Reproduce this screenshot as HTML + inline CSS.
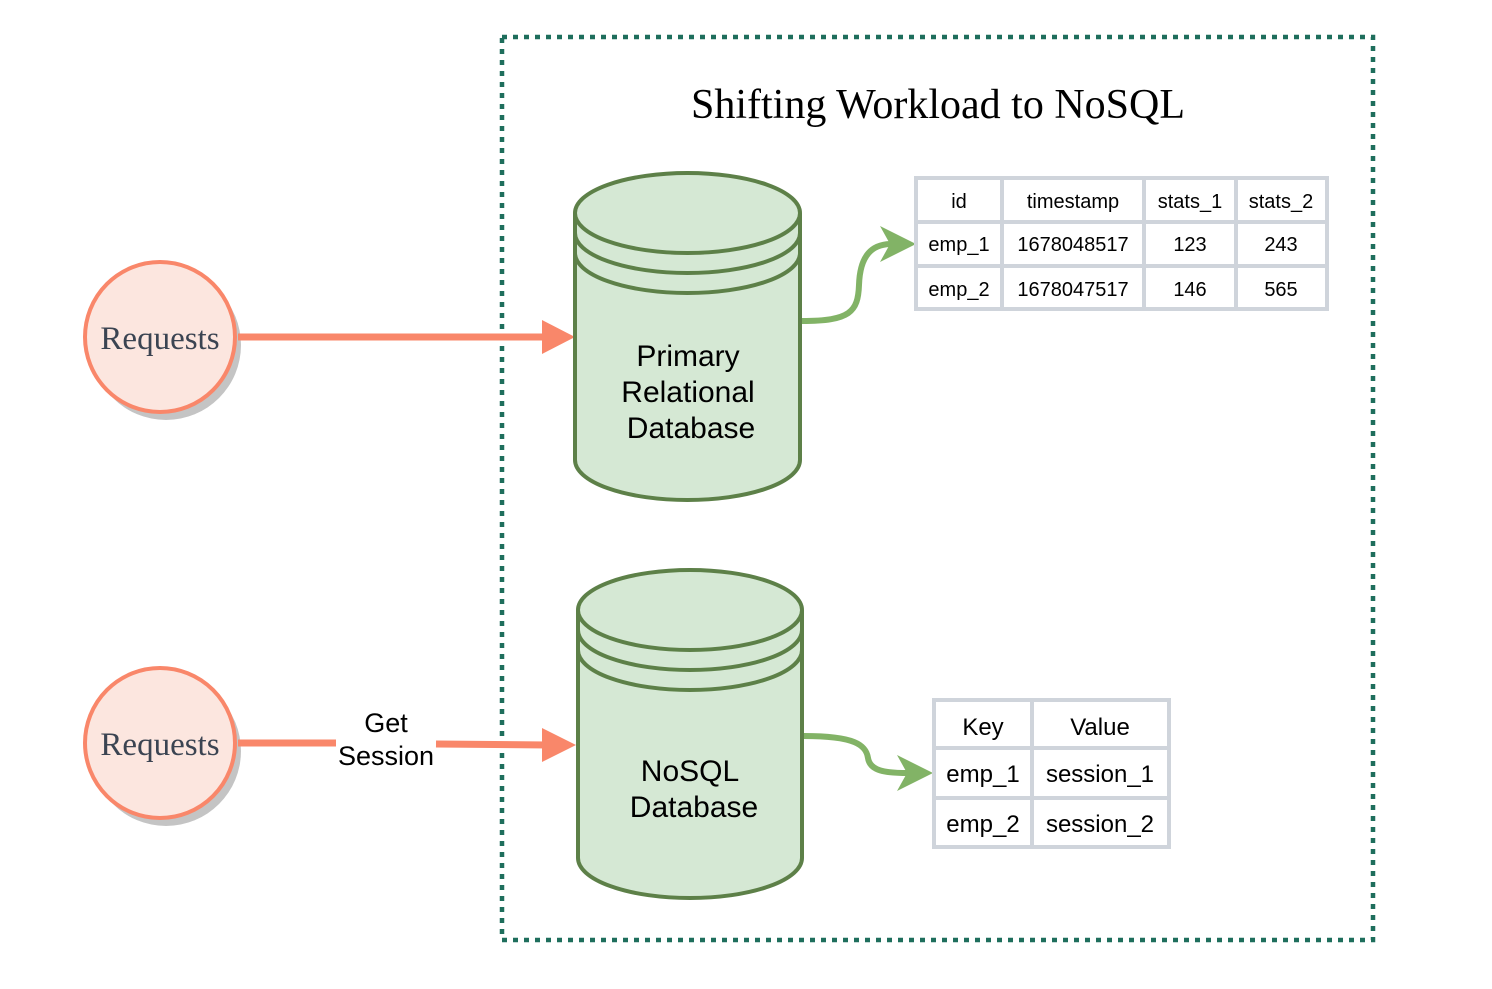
<!DOCTYPE html>
<html><head><style>body{margin:0;background:#fff}</style></head><body>
<svg width="1492" height="984" xmlns="http://www.w3.org/2000/svg">
<rect x="502" y="37" width="871" height="903" fill="none" stroke="#1e6e5c" stroke-width="4.5" stroke-dasharray="5 6"/>
<text x="938" y="118" text-anchor="middle" font-family="Liberation Serif, serif" font-size="42" fill="#000">Shifting Workload to NoSQL</text>
<!-- circles -->
<g font-family="Liberation Serif, serif" font-size="33" fill="#3b4452" text-anchor="middle">
<circle cx="166" cy="345" r="75" fill="#c4c4c4"/>
<circle cx="160" cy="337" r="75" fill="#fce6df" stroke="#f9876a" stroke-width="4"/>
<text x="160" y="349">Requests</text>
<circle cx="166" cy="751" r="75" fill="#c4c4c4"/>
<circle cx="160" cy="743" r="75" fill="#fce6df" stroke="#f9876a" stroke-width="4"/>
<text x="160" y="755">Requests</text>
</g>
<!-- arrows -->
<line x1="238" y1="337" x2="548" y2="337" stroke="#f9876a" stroke-width="7"/>
<polygon points="542,320 575,337 542,354" fill="#f9876a"/>
<line x1="238" y1="743" x2="336" y2="743" stroke="#f9876a" stroke-width="7"/>
<line x1="436" y1="744" x2="548" y2="745" stroke="#f9876a" stroke-width="7"/>
<polygon points="542,728 576,745 542,762" fill="#f9876a"/>
<text x="386" y="732" text-anchor="middle" font-family="Liberation Sans, sans-serif" font-size="27">Get</text>
<text x="386" y="765" text-anchor="middle" font-family="Liberation Sans, sans-serif" font-size="27">Session</text>
<!-- cylinders -->
<g fill="#d5e8d4" stroke="#5d8048" stroke-width="4">
<path d="M575,213 L575,460 A112.5,40 0 0 0 800,460 L800,213"/>
<ellipse cx="687.5" cy="213" rx="112.5" ry="40"/>
<path d="M575,233 A112.5,40 0 0 0 800,233" fill="none"/>
<path d="M575,253 A112.5,40 0 0 0 800,253" fill="none"/>
<path d="M578,610 L578,858 A112,40 0 0 0 802,858 L802,610"/>
<ellipse cx="690" cy="610" rx="112" ry="40"/>
<path d="M578,630 A112,40 0 0 0 802,630" fill="none"/>
<path d="M578,650 A112,40 0 0 0 802,650" fill="none"/>
</g>
<g font-family="Liberation Sans, sans-serif" font-size="30" text-anchor="middle" fill="#000">
<text x="688" y="366">Primary</text>
<text x="688" y="402">Relational</text>
<text x="691" y="438">Database</text>
<text x="690" y="781">NoSQL</text>
<text x="694" y="817">Database</text>
</g>
<!-- green connectors -->
<g stroke="#82b366" stroke-width="6" fill="none">
<path d="M802,321 C850,321 858,312 859,285 C860,255 872,244 892,244"/>
<path d="M804,736 C855,736 866,745 868,758 C870,771 885,773 908,773"/>
</g>
<polygon points="880,226 916,244 880,262 890,244" fill="#82b366"/>
<polygon points="897,755 933,773 897,791 907,773" fill="#82b366"/>
<!-- tables -->
<g fill="none" stroke="#cfd4db" stroke-width="4">
<rect x="916" y="178" width="411" height="131" fill="#fff"/>
<line x1="1002" y1="178" x2="1002" y2="309"/><line x1="1144" y1="178" x2="1144" y2="309"/><line x1="1236" y1="178" x2="1236" y2="309"/>
<line x1="916" y1="222" x2="1327" y2="222"/><line x1="916" y1="266" x2="1327" y2="266"/>
<rect x="934" y="700" width="235" height="147" fill="#fff"/>
<line x1="1032" y1="700" x2="1032" y2="847"/>
<line x1="934" y1="748" x2="1169" y2="748"/><line x1="934" y1="798" x2="1169" y2="798"/>
</g>
<g font-family="Liberation Sans, sans-serif" font-size="20" text-anchor="middle" fill="#000">
<text x="959" y="208">id</text><text x="1073" y="208">timestamp</text><text x="1190" y="208">stats_1</text><text x="1281" y="208">stats_2</text>
<text x="959" y="251">emp_1</text><text x="1073" y="251">1678048517</text><text x="1190" y="251">123</text><text x="1281" y="251">243</text>
<text x="959" y="296">emp_2</text><text x="1073" y="296">1678047517</text><text x="1190" y="296">146</text><text x="1281" y="296">565</text>
</g>
<g font-family="Liberation Sans, sans-serif" font-size="24" text-anchor="middle" fill="#000">
<text x="983" y="735">Key</text><text x="1100" y="735">Value</text>
<text x="983" y="782">emp_1</text><text x="1100" y="782">session_1</text>
<text x="983" y="832">emp_2</text><text x="1100" y="832">session_2</text>
</g>
</svg>
</body></html>
